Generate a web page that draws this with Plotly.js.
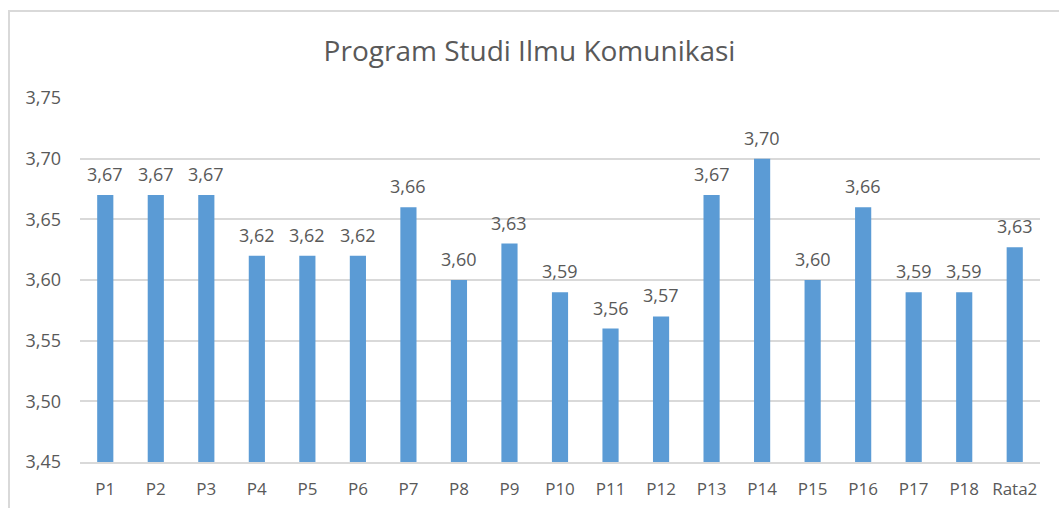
<!DOCTYPE html>
<html>
<head>
<meta charset="utf-8">
<script src="https://cdn.plot.ly/plotly-3.0.1.min.js"></script>
<style>
  html, body { margin: 0; padding: 0; background: #fff; }
  #frame { position: absolute; left: 8px; top: 10px; width: 1100px; height: 600px; border: 2px solid #d9d9d9; box-sizing: border-box; pointer-events: none; z-index: 5; }
  #chart { position: absolute; left: 0; top: 0; width: 1059px; height: 508px; }
</style>
</head>
<body>
<div id="chart"></div>
<div id="frame"></div>
<script>
const categories = ["P1","P2","P3","P4","P5","P6","P7","P8","P9","P10","P11","P12","P13","P14","P15","P16","P17","P18","Rata2"];
const values = [3.67,3.67,3.67,3.62,3.62,3.62,3.66,3.60,3.63,3.59,3.56,3.57,3.67,3.70,3.60,3.66,3.59,3.59,3.627];
const yTicks = [3.45,3.50,3.55,3.60,3.65,3.70,3.75];
const chartTitle = "Program Studi Ilmu Komunikasi";

const font = "Open Sans, Liberation Sans, sans-serif";
const textColor = "#595959";

const fmt = v => v.toFixed(2).replace(".", ",");
const labels = categories.map((c, i) => ({
  x: c, y: values[i], xref: "x", yref: "y",
  text: fmt(values[i]), showarrow: false,
  yanchor: "bottom", yshift: 7,
  font: { family: font, size: 18, color: textColor }
}));

Plotly.newPlot("chart", [{
  type: "bar",
  x: categories,
  y: values,
  marker: { color: "#5B9BD5" },
  cliponaxis: false,
  hoverinfo: "none"
}], {
  width: 1059,
  height: 508,
  margin: { l: 80, r: 19, t: 98, b: 46 },
  separators: ",.",
  bargap: 0.68,
  paper_bgcolor: "#fff",
  plot_bgcolor: "#fff",
  annotations: labels,
  title: { text: chartTitle, font: { family: font, size: 28, color: textColor }, x: 0.5, xanchor: "center", y: 0.9, yanchor: "middle" },
  xaxis: {
    tickfont: { family: font, size: 17, color: textColor },
    showline: true, linecolor: "#d9d9d9", linewidth: 2,
    ticks: "", ticklabelstandoff: 11, fixedrange: true
  },
  yaxis: {
    range: [3.45, 3.75],
    tickvals: yTicks,
    tickformat: ".2f",
    tickfont: { family: font, size: 18, color: textColor },
    gridcolor: "#d9d9d9", gridwidth: 2,
    zeroline: false, showline: false,
    ticks: "", ticklabelstandoff: 18, fixedrange: true
  },
  showlegend: false
}, { staticPlot: true });
</script>
</body>
</html>
